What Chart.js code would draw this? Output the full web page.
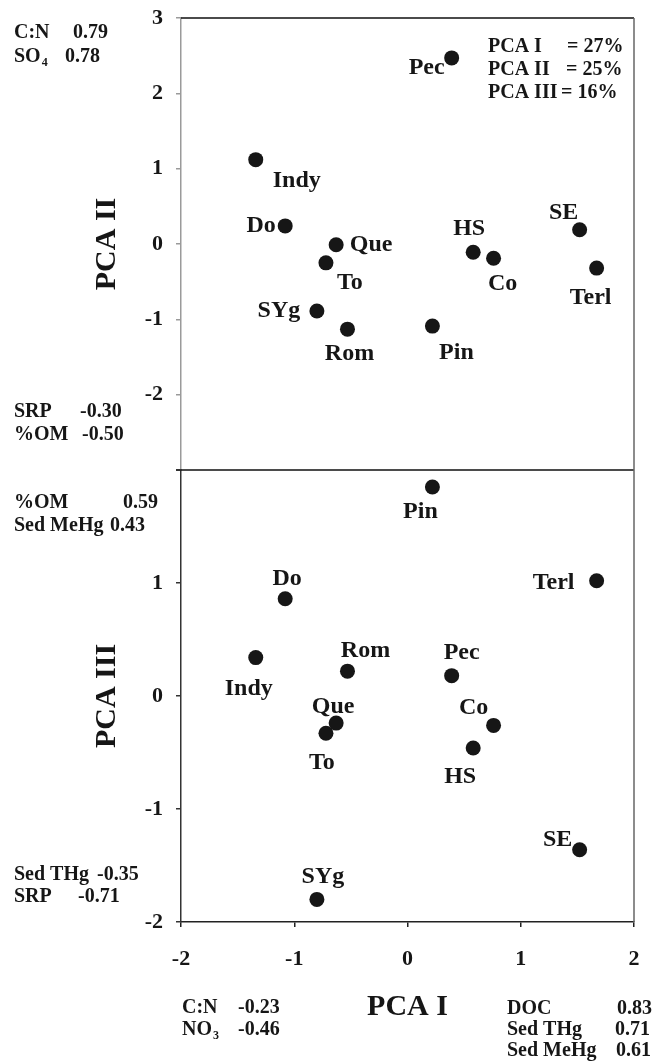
<!DOCTYPE html>
<html>
<head>
<meta charset="utf-8">
<script src="https://cdn.jsdelivr.net/npm/chart.js@4.4.1/dist/chart.umd.min.js"></script>
<style>
  html, body { margin: 0; padding: 0; background: #fff; }
  #wrap { position: relative; width: 656px; height: 1061px; }
</style>
</head>
<body>
<div id="wrap"><canvas id="pca" width="656" height="1061"></canvas></div>
<script>
// sites and their scores on the three components
var sites = ['Indy', 'Do', 'Que', 'To', 'SYg', 'Rom', 'Pin', 'HS', 'Co', 'SE', 'Terl', 'Pec'];
var pca1 = [-1.34, -1.08, -0.63, -0.72, -0.80, -0.53, 0.22, 0.58, 0.76, 1.52, 1.67, 0.39];
var pca2 = [1.12, 0.24, -0.01, -0.25, -0.89, -1.13, -1.09, -0.11, -0.19, 0.19, -0.32, 2.47];
var pca3 = [0.34, 0.86, -0.24, -0.33, -1.80, 0.22, 1.85, -0.46, -0.26, -1.36, 1.02, 0.18];

var xTicks = [-2, -1, 0, 1, 2];
var yTicksII = [-3, -2, -1, 0, 1, 2, 3];
var yTicksIII = [-2, -1, 0, 1, 2];

// variance explained and loadings (text shown round the plot)
var variance = [['PCA I', '= 27%'], ['PCA II', '= 25%'], ['PCA III', '= 16%']];
var loadPC2pos = [['C:N', '0.79'], ['SO_4', '0.78']];
var loadPC2neg = [['SRP', '-0.30'], ['%OM', '-0.50']];
var loadPC3pos = [['%OM', '0.59'], ['Sed MeHg', '0.43']];
var loadPC3neg = [['Sed THg', '-0.35'], ['SRP', '-0.71']];
var loadPC1neg = [['C:N', '-0.23'], ['NO_3', '-0.46']];
var loadPC1pos = [['DOC', '0.83'], ['Sed THg', '0.71'], ['Sed MeHg', '0.61']];

// where each site label sits relative to its dot (px)
var labelOffII = [[41, 21], [-24, 0], [35, 0], [24, 20], [-38, 0], [2, 25], [24, 27], [-4, -23], [9, 25], [-16, -17], [-6, 30], [-25, 10]];
var labelOffIII = [[-7, 31], [2, -20], [-3, -16], [-4, 30], [6, -23], [18, -20], [-12, 25], [-13, 29], [-20, -18], [-22, -10], [-43, 2], [10, -23]];

var FONT = '"Liberation Serif", "Times New Roman", serif';
var INK = '#161616';

var noteBlocks = [
  { rows: loadPC2pos, x: 14, y: 38, lh: 24, vx: [73, 65], size: 20 },
  { rows: loadPC2neg, x: 14, y: 417, lh: 23, vx: [80, 82], size: 20 },
  { rows: loadPC3pos, x: 14, y: 508, lh: 23, vx: [123, 110], size: 20 },
  { rows: loadPC3neg, x: 14, y: 880, lh: 22, vx: [97, 78], size: 20 },
  { rows: loadPC1neg, x: 182, y: 1013, lh: 22, vx: [238, 238], size: 20 },
  { rows: loadPC1pos, x: 507, y: 1014, lh: 21, vx: [617, 615, 616], size: 20 },
  { rows: variance, x: 488, y: 52, lh: 23, vx: [567, 566, 561], size: 20 }
];

function drawRich(ctx, str, x, y, size) {
  var parts = str.split('_');
  ctx.font = 'bold ' + size + 'px ' + FONT;
  ctx.fillText(parts[0], x, y);
  if (parts.length > 1) {
    var w = ctx.measureText(parts[0]).width;
    ctx.font = 'bold ' + Math.round(size * 0.62) + 'px ' + FONT;
    ctx.fillText(parts[1], x + w + 1, y + 4);
  }
}

var notesPlugin = {
  id: 'notes',
  afterDraw: function(chart) {
    var ctx = chart.ctx;
    ctx.save();
    ctx.fillStyle = INK;
    ctx.textAlign = 'left';
    ctx.textBaseline = 'alphabetic';
    noteBlocks.forEach(function(b) {
      b.rows.forEach(function(r, i) {
        var y = b.y + i * b.lh;
        drawRich(ctx, r[0], b.x, y, b.size);
        drawRich(ctx, r[1], b.vx[i], y, b.size);
      });
    });
    ctx.restore();
  }
};

var siteLabels = {
  id: 'siteLabels',
  afterDatasetsDraw: function(chart) {
    var ctx = chart.ctx;
    ctx.save();
    ctx.fillStyle = INK;
    ctx.font = 'bold 24px ' + FONT;
    ctx.textAlign = 'center';
    ctx.textBaseline = 'middle';
    chart.data.datasets.forEach(function(ds, d) {
      var offs = d === 0 ? labelOffII : labelOffIII;
      chart.getDatasetMeta(d).data.forEach(function(pt, i) {
        ctx.fillText(sites[i], pt.x + offs[i][0], pt.y + offs[i][1]);
      });
    });
    ctx.restore();
  }
};

var frame = {
  id: 'frame',
  afterDraw: function(chart) {
    var a = chart.chartArea, ctx = chart.ctx;
    var mid = chart.scales.yII.bottom;
    ctx.save();
    ctx.lineWidth = 1.5;
    ctx.strokeStyle = '#111';
    ctx.beginPath();
    ctx.moveTo(a.left, a.top); ctx.lineTo(a.right, a.top);
    ctx.moveTo(a.left - 5, mid); ctx.lineTo(a.right, mid);
    ctx.stroke();
    ctx.strokeStyle = '#666';
    ctx.beginPath();
    ctx.moveTo(a.right, a.top); ctx.lineTo(a.right, a.bottom);
    ctx.stroke();
    ctx.restore();
  }
};

function tickFont() { return { family: FONT, size: 22, weight: 'bold' }; }

function yAxis(min, max, list, hide, color, title) {
  return {
    type: 'linear', position: 'left', stack: 'pca', stackWeight: 1,
    min: min, max: max,
    afterBuildTicks: function(s) { s.ticks = list.map(function(v) { return { value: v }; }); },
    afterFit: function(s) { s.width = 181; s.paddingTop = 0; s.paddingBottom = 0; },
    grid: { drawOnChartArea: false, drawTicks: true, tickLength: 5, color: color, lineWidth: 1.5 },
    border: { display: true, color: color, width: 1.5 },
    ticks: {
      font: tickFont(), color: INK, padding: 13,
      callback: function(v) { return v === hide ? '' : String(v); }
    },
    title: {
      display: true, text: title, color: INK,
      font: { family: FONT, size: 30, weight: 'bold' },
      padding: { top: 89, bottom: 0 }
    }
  };
}

var ctx = document.getElementById('pca').getContext('2d');
new Chart(ctx, {
  type: 'scatter',
  data: {
    datasets: [
      {
        label: 'PCA II',
        data: sites.map(function(s, i) { return { x: pca1[i], y: pca2[i] }; }),
        yAxisID: 'yII',
        backgroundColor: INK, borderWidth: 0, pointRadius: 7.5, pointHoverRadius: 7.5
      },
      {
        label: 'PCA III',
        data: sites.map(function(s, i) { return { x: pca1[i], y: pca3[i] }; }),
        yAxisID: 'yIII',
        backgroundColor: INK, borderWidth: 0, pointRadius: 7.5, pointHoverRadius: 7.5
      }
    ]
  },
  options: {
    responsive: false,
    animation: false,
    devicePixelRatio: 1,
    layout: { padding: { left: 0, top: 18, right: 22, bottom: 0 } },
    plugins: { legend: { display: false }, tooltip: { enabled: false } },
    scales: {
      x: {
        type: 'linear', position: 'bottom', min: -2, max: 2,
        afterBuildTicks: function(s) { s.ticks = xTicks.map(function(v) { return { value: v }; }); },
        afterFit: function(s) { s.height = 139; s.paddingLeft = 0; s.paddingRight = 0; },
        grid: { drawOnChartArea: false, drawTicks: true, tickLength: 5, color: '#222', lineWidth: 1.5 },
        border: { display: true, color: '#222', width: 1.5 },
        ticks: { font: tickFont(), color: INK, padding: 19 },
        title: {
          display: true, text: 'PCA I', color: INK,
          font: { family: FONT, size: 30, weight: 'bold' },
          padding: { top: 0, bottom: 36 }
        }
      },
      yIII: yAxis(-2, 2, yTicksIII, 2, '#333', 'PCA III'),
      yII: yAxis(-3, 3, yTicksII, -3, '#9a9a9a', 'PCA II')
    }
  },
  plugins: [frame, siteLabels, notesPlugin]
});
</script>
</body>
</html>
